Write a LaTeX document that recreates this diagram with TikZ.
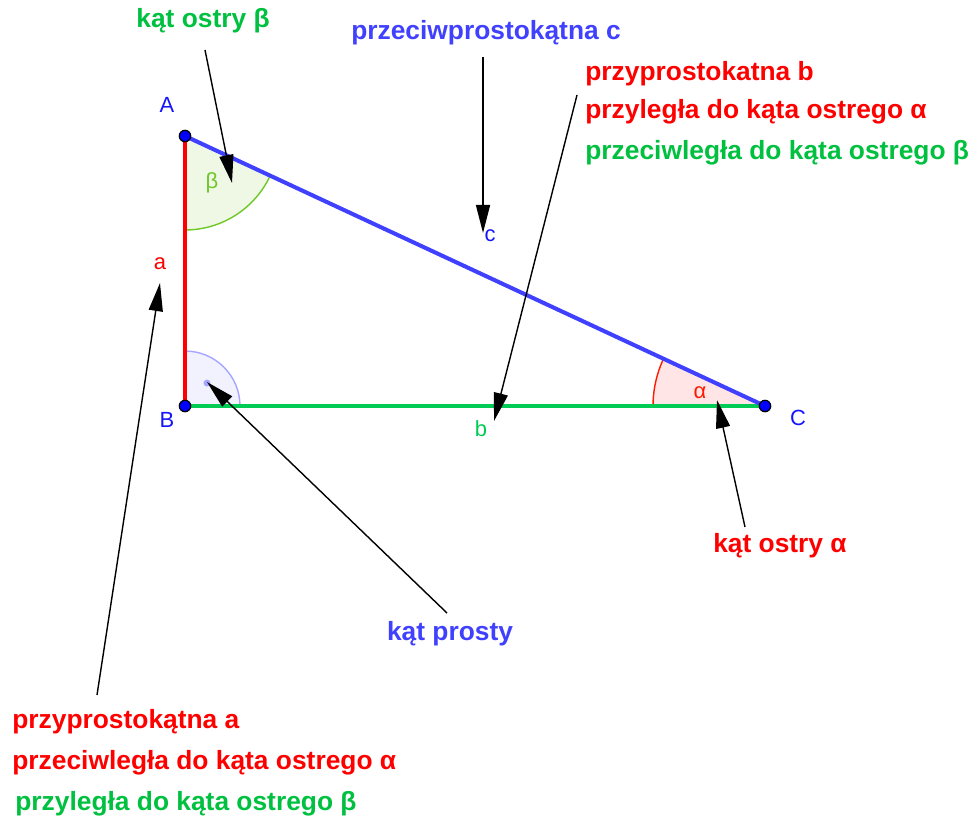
\documentclass[tikz,border=0pt]{standalone}
\usepackage{fontspec}
\setmainfont{Liberation Sans}
\usetikzlibrary{arrows.meta,angles}
\definecolor{niebieski}{RGB}{64,64,255}
\definecolor{niebieskip}{RGB}{20,20,255}
\definecolor{czerwony}{RGB}{255,0,0}
\definecolor{zielony}{RGB}{0,192,64}
\definecolor{zielonyb}{RGB}{0,204,85}
\definecolor{betakat}{RGB}{110,200,40}
\definecolor{betatlo}{RGB}{238,248,228}
\begin{document}
\begin{tikzpicture}[
  x=0.02cm, y=-0.02cm,
  vpoint/.style={circle, draw=black, fill=blue, line width=0.7pt, inner sep=0pt, minimum size=6.5pt},
  side/.style={line width=2.3pt},
  pointer/.style={line width=0.8pt, draw=black, -{Triangle[length=16pt,width=8pt]}},
  ptlabel/.style={font=\fontsize{12.5}{14}\selectfont, text=niebieskip},
  note/.style={font=\fontsize{15}{18}\selectfont\bfseries, inner sep=0pt},
  note_left/.style={note, anchor=west}
]
  \useasboundingbox (0,0) rectangle (972,819);

  % --- WIERZCHOLKI TROJKATA ---
  \coordinate (A) at (185,136);
  \coordinate (B) at (185,406);
  \coordinate (C) at (765,406);

  % Katy (wypelnione wycinki)
  \pic[draw=betakat, fill=betatlo, line width=0.8pt, angle radius=1.88cm] {angle = B--A--C};
  \pic[draw=blue!35, fill=blue!5, line width=0.8pt, angle radius=1.1cm] {angle = C--B--A};
  \pic[draw=red!80!orange, fill=red!10, line width=0.8pt, angle radius=2.24cm] {angle = A--C--B};
  \node[circle, fill=blue!35, inner sep=0pt, minimum size=4pt] (dot) at (207,383) {};

  % Boki
  \draw[side, czerwony] (A) -- (B);
  \draw[side, zielonyb] (B) -- (C);
  \draw[side, niebieski] (A) -- (C);

  \node[vpoint] (pA) at (A) {};
  \node[vpoint] (pB) at (B) {};
  \node[vpoint] (pC) at (C) {};

  % Etykiety punktow i bokow
  \node[ptlabel] (lA) at (167,105) {A};
  \node[ptlabel] (lB) at (167,420) {B};
  \node[ptlabel] (lC) at (798,418) {C};
  \node[ptlabel, text=czerwony] (la) at (160,264) {a};
  \node[ptlabel, text=zielonyb] (lb) at (481,429) {b};
  \node[ptlabel] (lc) at (490,236) {c};
  \node[ptlabel, text=betakat] (lbeta) at (212,183) {β};
  \node[ptlabel, text=red!80!orange] (lalpha) at (700,393) {α};

  % --- OPISY ---
  \node[note, text=zielony] (tbeta) at (203,21) {kąt ostry β};
  \node[note, text=niebieski] (tc) at (486,33) {przeciwprostokątna c};
  \node[note_left, text=czerwony] (tb1) at (585,74) {przyprostokatna b};
  \node[note_left, text=czerwony] (tb2) at (585,112) {przyległa do kąta ostrego α};
  \node[note_left, text=zielony] (tb3) at (585,153) {przeciwległa do kąta ostrego β};
  \node[note, text=czerwony] (talpha) at (780,546) {kąt ostry α};
  \node[note, text=niebieski] (tprosty) at (450,634) {kąt prosty};
  \node[note_left, text=czerwony] (ta1) at (12,722) {przyprostokątna a};
  \node[note_left, text=czerwony] (ta2) at (12,763) {przeciwległa do kąta ostrego α};
  \node[note_left, text=zielony] (ta3) at (15,804) {przyległa do kąta ostrego β};

  % --- STRZALKI ---
  \coordinate (s1) at (205,50);  \coordinate (e1) at (232,183);
  \coordinate (s2) at (483,57);  \coordinate (e2) at (483,233);
  \coordinate (s3) at (577,95);  \coordinate (e3) at (494,421);
  \coordinate (s4) at (97,695);  \coordinate (e4) at (160,283);
  \coordinate (s5) at (447,613); \coordinate (e5) at (207,382);
  \coordinate (s6) at (745,527); \coordinate (e6) at (717,400);

  \draw[pointer] (s1) -- (e1);
  \draw[pointer] (s2) -- (e2);
  \draw[pointer] (s3) -- (e3);
  \draw[pointer] (s4) -- (e4);
  \draw[pointer] (s5) -- (e5);
  \draw[pointer] (s6) -- (e6);
\end{tikzpicture}
\end{document}
